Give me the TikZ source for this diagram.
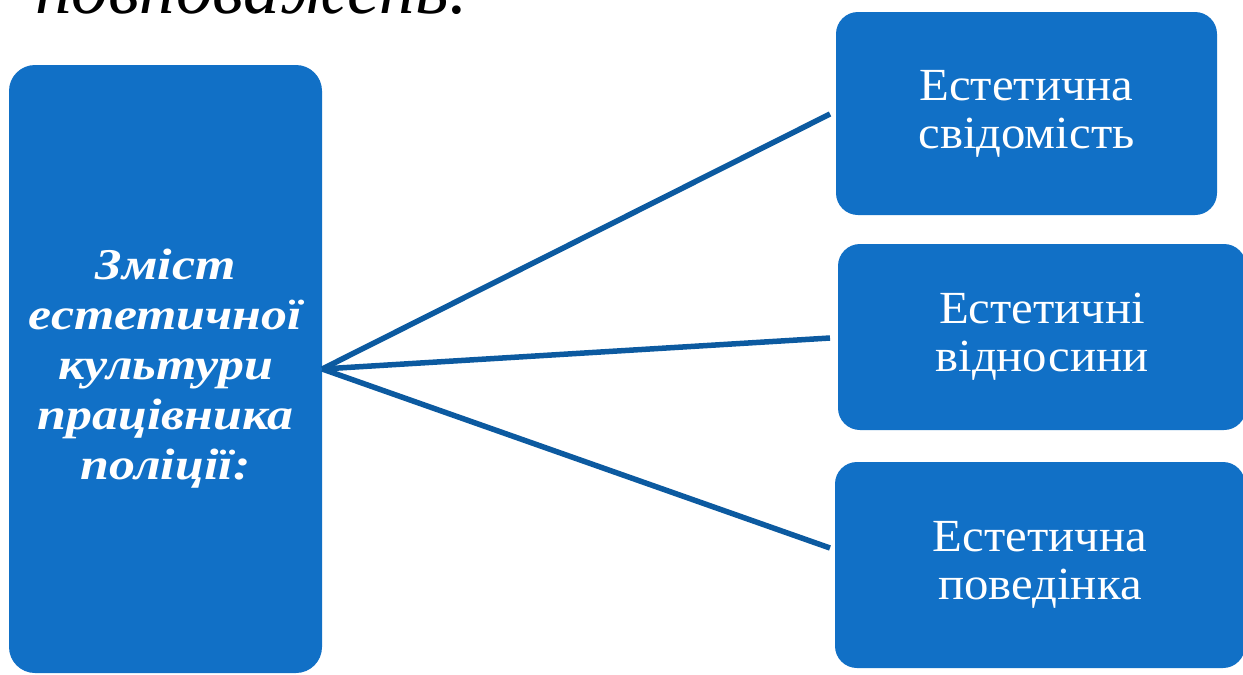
\documentclass[tikz,border=0pt]{standalone}
\usepackage{fontspec}
\setmainfont{Liberation Serif}
\newfontfamily\boxfont[FakeStretch=1.06]{Liberation Serif}
\newfontfamily\leftfont[FakeStretch=1.18]{Liberation Serif}
\definecolor{boxblue}{HTML}{1170C6}
\definecolor{lineblue}{HTML}{0C5AA0}
\begin{document}
\begin{tikzpicture}[x=1pt,y=-1pt,
  bluebox/.style={rectangle, rounded corners=22pt, fill=boxblue, text=white, align=center, inner sep=0pt},
  rightbox/.style={bluebox, font=\boxfont\fontsize{46}{48}\selectfont},
  conn/.style={draw=lineblue, line width=5.5pt}]
\useasboundingbox[fill=white] (0,0) rectangle (1243,675);
\clip (0,0) rectangle (1243,675);
\node[anchor=base west, font=\fontsize{73}{76}\itshape\selectfont, inner sep=0pt] (title) at (35,13) {повноважень.};
\node[bluebox, minimum width=313pt, minimum height=608pt, rounded corners=26pt,
      font=\leftfont\fontsize{44}{50}\bfseries\itshape\selectfont] (L) at (165.5,369)
  {Зміст\\естетичної\\культури\\працівника\\поліції:};
\node[rightbox, minimum width=381pt, minimum height=203pt] (A) at (1026.5,113.5) {Естетична\\свідомість};
\node[rightbox, minimum width=408pt, minimum height=186pt] (B) at (1042,337) {Естетичні\\відносини};
\node[rightbox, minimum width=410pt, minimum height=206pt] (C) at (1040,565) {Естетична\\поведінка};
\coordinate (a) at (830,114);
\coordinate (b) at (830,338);
\coordinate (c) at (830,548);
\draw[conn] (L.east) -- (a);
\draw[conn] (L.east) -- (b);
\draw[conn] (L.east) -- (c);
\end{tikzpicture}
\end{document}
